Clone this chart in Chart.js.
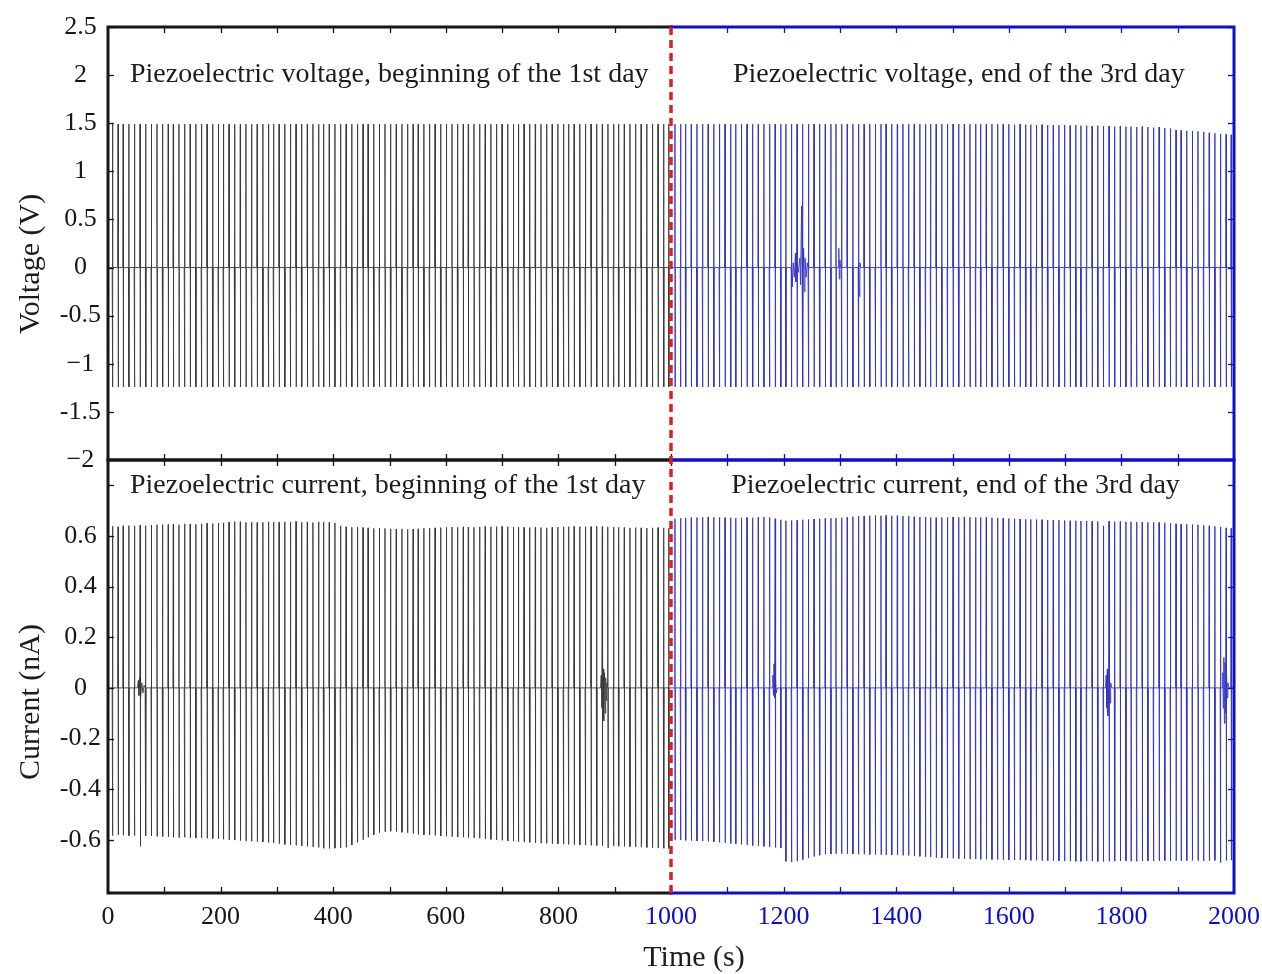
<!DOCTYPE html>
<html><head><meta charset="utf-8">
<script src="https://cdn.jsdelivr.net/npm/chart.js@4.4.1/dist/chart.umd.min.js"></script>
<style>
html,body{margin:0;padding:0;background:#fff;width:1262px;height:974px;overflow:hidden}
#wrap{position:relative;width:1262px;height:974px}
canvas{position:absolute;left:0;top:0}
</style></head><body><div id="wrap"><canvas id="cv" width="1262" height="974"></canvas><canvas id="ci" width="1262" height="974"></canvas></div>
<script>
// ---------------- DATA ----------------
const day1Times = [8,18,27,37,47,57,67,77,87,97,
107,116,126,136,146,156,166,176,186,196,
205,215,225,235,245,255,265,275,285,294,
304,314,324,334,344,354,364,374,383,393,
403,413,423,433,443,453,462,472,482,492,
502,512,522,532,542,551,561,571,581,591,
601,611,621,631,640,650,660,670,680,690,
700,710,720,729,739,749,759,769,779,789,
799,809,818,828,838,848,858,868,878,888,
898,907,917,927,937,947,957,967,977,987,996];
const day3Times = [1007,1017,1026,1036,1046,1056,1066,1076,1086,1096,
1106,1115,1125,1135,1145,1155,1165,1175,1185,1195,
1204,1214,1224,1234,1244,1254,1264,1274,1284,1293,
1303,1313,1323,1333,1343,1353,1363,1373,1382,1392,
1402,1412,1422,1432,1442,1452,1461,1471,1481,1491,
1501,1511,1521,1531,1541,1550,1560,1570,1580,1590,
1600,1610,1620,1630,1639,1649,1659,1669,1679,1689,
1699,1709,1719,1728,1738,1748,1758,1768,1778,1788,
1798,1808,1817,1827,1837,1847,1857,1867,1877,1887,
1897,1906,1916,1926,1936,1946,1956,1966,1976,1986,1995];

const voltPeak1 = [1.49,1.49,1.49,1.49,1.49,1.49,1.49,1.49,1.49,1.49,
1.49,1.49,1.49,1.49,1.49,1.49,1.49,1.49,1.49,1.49,
1.49,1.49,1.49,1.49,1.49,1.49,1.49,1.49,1.49,1.49,
1.49,1.49,1.49,1.49,1.49,1.49,1.49,1.49,1.49,1.49,
1.49,1.49,1.49,1.49,1.49,1.49,1.49,1.49,1.49,1.49,
1.49,1.49,1.49,1.49,1.49,1.49,1.49,1.49,1.49,1.49,
1.49,1.49,1.49,1.49,1.49,1.49,1.49,1.49,1.49,1.49,
1.49,1.49,1.49,1.49,1.49,1.49,1.49,1.49,1.49,1.49,
1.49,1.49,1.49,1.49,1.49,1.49,1.49,1.49,1.49,1.49,
1.49,1.49,1.49,1.49,1.49,1.49,1.49,1.49,1.49,1.49,1.49];
const voltTrough1 = [-1.24,-1.24,-1.24,-1.24,-1.24,-1.24,-1.24,-1.24,-1.24,-1.24,
-1.24,-1.24,-1.24,-1.24,-1.24,-1.24,-1.24,-1.24,-1.24,-1.24,
-1.24,-1.24,-1.24,-1.24,-1.24,-1.24,-1.24,-1.24,-1.24,-1.24,
-1.24,-1.24,-1.24,-1.24,-1.24,-1.24,-1.24,-1.24,-1.24,-1.24,
-1.24,-1.24,-1.24,-1.24,-1.24,-1.24,-1.24,-1.24,-1.24,-1.24,
-1.24,-1.24,-1.24,-1.24,-1.24,-1.24,-1.24,-1.24,-1.24,-1.24,
-1.24,-1.24,-1.24,-1.24,-1.24,-1.24,-1.24,-1.24,-1.24,-1.24,
-1.24,-1.24,-1.24,-1.24,-1.24,-1.24,-1.24,-1.24,-1.24,-1.24,
-1.24,-1.24,-1.24,-1.24,-1.24,-1.24,-1.24,-1.24,-1.24,-1.24,
-1.24,-1.24,-1.24,-1.24,-1.24,-1.24,-1.24,-1.24,-1.24,-1.24,-1.24];
const voltPeak3 = [1.49,1.49,1.49,1.49,1.49,1.49,1.49,1.49,1.49,1.49,
1.49,1.49,1.49,1.49,1.49,1.49,1.49,1.49,1.49,1.49,
1.49,1.49,1.49,1.49,1.49,1.49,1.49,1.49,1.49,1.49,
1.49,1.49,1.49,1.49,1.49,1.49,1.49,1.49,1.49,1.49,
1.49,1.49,1.49,1.49,1.49,1.49,1.49,1.49,1.49,1.49,
1.49,1.49,1.49,1.49,1.49,1.49,1.49,1.49,1.49,1.49,
1.49,1.485,1.49,1.485,1.485,1.48,1.485,1.48,1.48,1.48,
1.48,1.475,1.48,1.475,1.475,1.47,1.475,1.47,1.47,1.465,
1.47,1.465,1.465,1.46,1.465,1.46,1.455,1.46,1.45,1.445,
1.43,1.425,1.42,1.42,1.415,1.41,1.40,1.395,1.39,1.385,1.38];
const voltTrough3 = [-1.24,-1.24,-1.24,-1.24,-1.24,-1.24,-1.24,-1.24,-1.24,-1.24,
-1.24,-1.24,-1.24,-1.24,-1.24,-1.24,-1.24,-1.24,-1.24,-1.24,
-1.24,-1.24,-1.24,-1.24,-1.24,-1.24,-1.24,-1.24,-1.24,-1.24,
-1.24,-1.24,-1.24,-1.24,-1.24,-1.24,-1.24,-1.24,-1.24,-1.24,
-1.24,-1.24,-1.24,-1.24,-1.24,-1.24,-1.24,-1.24,-1.24,-1.24,
-1.24,-1.24,-1.24,-1.24,-1.24,-1.24,-1.24,-1.24,-1.24,-1.24,
-1.24,-1.24,-1.24,-1.24,-1.24,-1.24,-1.24,-1.24,-1.24,-1.24,
-1.24,-1.24,-1.24,-1.24,-1.24,-1.24,-1.24,-1.24,-1.24,-1.24,
-1.24,-1.24,-1.24,-1.24,-1.24,-1.24,-1.24,-1.24,-1.24,-1.24,
-1.24,-1.24,-1.24,-1.24,-1.24,-1.24,-1.24,-1.24,-1.24,-1.24,-1.24];
const voltBurst3 = [[1213,0],[1214,0.12],[1215.5,-0.2],[1217,0.05],[1219,-0.1],[1221,0.15],[1222,-0.15],[1224,0.08],[1226,-0.05],
[1229,0.1],[1230,-0.18],[1232,0.64],[1233,-0.22],[1235.5,0.2],[1236.5,-0.25],[1238,0.1],[1240,-0.1],[1242,0.05],[1245,0],
[1297,0],[1298,0.2],[1299,-0.12],[1300,0.08],[1301,0],[1332,0],[1333.5,0.08],[1334.5,-0.3],[1335.5,0.05],[1337,0]];

const curPeak1 = [0.638,0.636,0.64,0.641,0.64,0.642,0.64,0.643,0.644,0.645,
0.645,0.646,0.644,0.648,0.647,0.646,0.648,0.65,0.649,0.65,
0.652,0.655,0.657,0.656,0.654,0.655,0.653,0.654,0.656,0.655,
0.654,0.656,0.655,0.657,0.654,0.655,0.653,0.656,0.655,0.654,
0.652,0.64,0.636,0.634,0.635,0.633,0.632,0.63,0.631,0.63,
0.628,0.627,0.628,0.626,0.627,0.628,0.63,0.631,0.632,0.633,
0.634,0.635,0.634,0.636,0.635,0.634,0.636,0.637,0.636,0.637,
0.638,0.637,0.636,0.635,0.634,0.633,0.634,0.633,0.632,0.634,
0.635,0.636,0.637,0.638,0.637,0.636,0.637,0.638,0.637,0.636,
0.635,0.634,0.633,0.632,0.633,0.632,0.631,0.632,0.633,0.632,0.631];
const curTrough1 = [-0.583,-0.58,-0.582,-0.584,-0.583,-0.626,-0.585,-0.585,-0.586,-0.587,
-0.588,-0.59,-0.591,-0.59,-0.592,-0.593,-0.592,-0.594,-0.595,-0.596,
-0.598,-0.6,-0.601,-0.603,-0.604,-0.606,-0.607,-0.608,-0.61,-0.612,
-0.615,-0.618,-0.62,-0.622,-0.624,-0.626,-0.628,-0.63,-0.633,-0.634,
-0.633,-0.632,-0.63,-0.62,-0.61,-0.6,-0.59,-0.58,-0.572,-0.568,
-0.566,-0.567,-0.57,-0.572,-0.575,-0.578,-0.58,-0.581,-0.583,-0.585,
-0.586,-0.587,-0.589,-0.59,-0.591,-0.592,-0.594,-0.596,-0.598,-0.6,
-0.602,-0.604,-0.605,-0.607,-0.608,-0.61,-0.612,-0.613,-0.614,-0.615,
-0.616,-0.617,-0.618,-0.619,-0.62,-0.621,-0.622,-0.622,-0.623,-0.632,
-0.624,-0.625,-0.626,-0.627,-0.628,-0.629,-0.63,-0.631,-0.632,-0.633,-0.634];
const curPeak3 = [0.668,0.67,0.671,0.672,0.673,0.674,0.675,0.674,0.673,0.672,
0.672,0.671,0.672,0.673,0.672,0.674,0.675,0.673,0.668,0.664,
0.66,0.661,0.662,0.664,0.665,0.667,0.668,0.669,0.67,0.671,
0.672,0.674,0.676,0.678,0.679,0.68,0.681,0.68,0.681,0.68,
0.68,0.679,0.678,0.676,0.675,0.674,0.673,0.672,0.673,0.674,
0.675,0.674,0.675,0.674,0.673,0.674,0.673,0.672,0.671,0.67,
0.669,0.668,0.667,0.666,0.665,0.665,0.664,0.663,0.663,0.662,
0.661,0.66,0.66,0.659,0.659,0.658,0.657,0.64,0.658,0.657,
0.657,0.656,0.656,0.655,0.655,0.654,0.654,0.653,0.652,0.651,
0.648,0.647,0.646,0.645,0.644,0.642,0.64,0.638,0.635,0.632,0.63];
const curTrough3 = [-0.6,-0.601,-0.602,-0.603,-0.604,-0.605,-0.606,-0.608,-0.61,-0.612,
-0.614,-0.616,-0.618,-0.62,-0.622,-0.624,-0.626,-0.628,-0.63,-0.632,
-0.685,-0.688,-0.684,-0.678,-0.672,-0.666,-0.661,-0.657,-0.656,-0.655,
-0.655,-0.656,-0.656,-0.657,-0.657,-0.658,-0.658,-0.659,-0.66,-0.66,
-0.66,-0.661,-0.662,-0.664,-0.665,-0.667,-0.668,-0.67,-0.671,-0.672,
-0.673,-0.674,-0.675,-0.676,-0.676,-0.677,-0.677,-0.678,-0.678,-0.679,
-0.679,-0.68,-0.68,-0.68,-0.681,-0.681,-0.682,-0.682,-0.683,-0.683,
-0.684,-0.684,-0.685,-0.685,-0.684,-0.684,-0.685,-0.686,-0.685,-0.684,
-0.684,-0.683,-0.684,-0.685,-0.684,-0.683,-0.684,-0.683,-0.682,-0.683,
-0.682,-0.683,-0.682,-0.681,-0.682,-0.683,-0.682,-0.681,-0.69,-0.682,-0.68];
const curBurst1 = [[52,0],[54,0.03],[55,-0.03],[56,0.04],[58.5,-0.04],[60,0.02],[62,-0.02],[64,0.01],[66,0],
[875,0],[876,0.05],[877,-0.08],[879.5,0.075],[880.5,-0.13],[882,0.06],[883,-0.1],[884,0.04],[885,-0.05],[886,0.02],[887,0]];
const curBurst3 = [[1180,0],[1181,0.05],[1182,-0.03],[1183,0.095],[1184,-0.04],[1186.5,0.04],[1187,-0.02],[1189,0],
[1772,0],[1773,0.05],[1774,-0.08],[1775,0.075],[1776,-0.11],[1779,0.05],[1780,-0.06],[1781,0.02],[1783,0],
[1979,0],[1980,0.06],[1981,-0.08],[1982,0.12],[1983,-0.14],[1984,0.1],[1985,-0.1],[1987,0.06],[1988,-0.04],[1989,0.02],[1991,0]];

const timeTickVals = [0,200,400,600,800,1000,1200,1400,1600,1800,2000];
const timeTickLabels = ['0','200','400','600','800','1000','1200','1400','1600','1800','2000'];
const timeMinorTicks = [100,200,300,400,500,600,700,800,900,1000,1100,1200,1300,1400,1500,1600,1700,1800,1900];
const voltTickVals = [-2,-1.5,-1,-0.5,0,0.5,1,1.5,2,2.5];
const voltTickLabels = ['\u22122','-1.5','\u22121','-0.5','0','0.5','1','1.5','2','2.5'];
const curTickVals = [-0.6,-0.4,-0.2,0,0.2,0.4,0.6];
const curTickLabels = ['-0.6','-0.4','-0.2','0','0.2','0.4','0.6'];
const curTickMarks = [-0.6,-0.4,-0.2,0,0.2,0.4,0.6,0.8];
const panelTitles = {
  volt1: 'Piezoelectric voltage, beginning of the 1st day',
  volt3: 'Piezoelectric voltage, end of the 3rd day',
  cur1: 'Piezoelectric current, beginning of the 1st day',
  cur3: 'Piezoelectric current, end of the 3rd day'
};
const splitTime = 1000;

// ---------------- STYLE ----------------
const BLACK = '#161616', BLUE = '#0c0cd2', TRACE_BLACK = '#3a3a3a', TRACE_BLUE = '#3232c4', RED = '#e01e1e';
const SERIF = '"Liberation Serif","Times New Roman",serif';

function buildSeries(times, peaks, troughs, bursts, tStart, tEnd) {
  const pts = [{x: tStart, y: 0}];
  for (let i = 0; i < times.length; i++) {
    const t = times[i];
    pts.push({x: t - 0.6, y: 0}, {x: t, y: peaks[i]}, {x: t + 0.15, y: troughs[i]}, {x: t + 0.7, y: 0});
  }
  bursts.forEach(b => pts.push({x: b[0], y: b[1]}));
  pts.push({x: tEnd, y: 0});
  pts.sort((a, b) => a.x - b.x);
  return pts;
}

function framePlugin(tickMarks, texts) {
  return {
    id: 'frame',
    afterDatasetsDraw(chart) {
      const {ctx, chartArea: {left, right, top, bottom}, scales: {x, y}} = chart;
      const xm = x.getPixelForValue(splitTime);
      ctx.save();
      ctx.lineWidth = 1.3;
      timeMinorTicks.forEach(v => {
        const px = Math.round(x.getPixelForValue(v)) + 0.5;
        ctx.strokeStyle = v <= splitTime ? BLACK : BLUE;
        ctx.beginPath(); ctx.moveTo(px, top); ctx.lineTo(px, top + 6);
        ctx.moveTo(px, bottom); ctx.lineTo(px, bottom - 6); ctx.stroke();
      });
      tickMarks.forEach(v => {
        const py = Math.round(y.getPixelForValue(v)) + 0.5;
        ctx.strokeStyle = BLACK;
        ctx.beginPath(); ctx.moveTo(left, py); ctx.lineTo(left + 6, py); ctx.stroke();
        ctx.strokeStyle = BLUE;
        ctx.beginPath(); ctx.moveTo(right, py); ctx.lineTo(right - 6, py); ctx.stroke();
      });
      ctx.lineWidth = 3;
      ctx.lineCap = 'square';
      ctx.strokeStyle = BLACK;
      ctx.beginPath();
      ctx.moveTo(xm, top); ctx.lineTo(left, top); ctx.lineTo(left, bottom); ctx.lineTo(xm, bottom);
      ctx.stroke();
      ctx.strokeStyle = BLUE;
      ctx.beginPath();
      ctx.moveTo(xm, top); ctx.lineTo(right, top); ctx.lineTo(right, bottom); ctx.lineTo(xm, bottom);
      ctx.stroke();
      ctx.fillStyle = '#1c1c1c';
      ctx.font = '28px ' + SERIF;
      ctx.textBaseline = 'alphabetic';
      ctx.textAlign = 'left';
      texts.forEach(t => ctx.fillText(t.text, x.getPixelForValue(t.x), y.getPixelForValue(t.y)));
      ctx.restore();
    }
  };
}

const axisTitlePlugin = {
  id: 'axisTitles',
  afterDraw(chart) {
    const ctx = chart.ctx;
    ctx.save();
    ctx.fillStyle = '#1c1c1c';
    ctx.font = '30px ' + SERIF;
    ctx.textAlign = 'center';
    ctx.textBaseline = 'middle';
    chart.options.plugins.axisTitles.items.forEach(it => {
      ctx.save();
      ctx.translate(it.x, it.y);
      ctx.rotate(it.rot);
      ctx.fillText(it.text, 0, 0);
      ctx.restore();
    });
    ctx.restore();
  }
};

function yScale(min, max, vals, labels) {
  return {
    type: 'linear', min: min, max: max, position: 'left',
    afterFit: s => { s.width = 108; s.paddingTop = 0; s.paddingBottom = 0; },
    afterBuildTicks: s => { s.ticks = vals.map(v => ({value: v})); },
    grid: {display: false, drawTicks: false},
    border: {display: false},
    ticks: {
      callback: (v, i) => labels[i],
      font: {family: SERIF, size: 26},
      color: BLACK,
      crossAlign: 'center',
      padding: 7
    }
  };
}

const commonOpts = {
  responsive: false,
  devicePixelRatio: 1,
  animation: false,
  events: [],
  elements: {point: {radius: 0}, line: {tension: 0}}
};

// ---------------- VOLTAGE PANEL ----------------
const voltChart = new Chart(document.getElementById('cv'), {
  type: 'line',
  data: {datasets: [
    {data: buildSeries(day1Times, voltPeak1, voltTrough1, [], 0, splitTime), borderColor: TRACE_BLACK, borderWidth: 0.9},
    {data: buildSeries(day3Times, voltPeak3, voltTrough3, voltBurst3, splitTime, 2000), borderColor: TRACE_BLUE, borderWidth: 0.9}
  ]},
  options: Object.assign({}, commonOpts, {
    layout: {padding: {top: 27, bottom: 514, left: 0, right: 28}},
    scales: {
      x: {type: 'linear', min: 0, max: 2000, display: false},
      y: yScale(-2, 2.5, voltTickVals, voltTickLabels)
    },
    plugins: {
      legend: {display: false}, tooltip: {enabled: false},
      axisTitles: {items: [{text: 'Voltage (V)', x: 31, y: 264, rot: -Math.PI / 2}]}
    }
  }),
  plugins: [framePlugin(voltTickVals, [
    {text: panelTitles.volt1, x: 39, y: 1.93},
    {text: panelTitles.volt3, x: 1110, y: 1.93}
  ]), axisTitlePlugin]
});

// ---------------- CURRENT PANEL ----------------
const redLinePlugin = {
  id: 'redLine',
  afterDraw(chart) {
    const {ctx, chartArea: {bottom}, scales: {x}} = chart;
    const px = x.getPixelForValue(splitTime);
    ctx.save();
    ctx.strokeStyle = RED;
    ctx.lineWidth = 3.5;
    ctx.setLineDash([8, 5]);
    ctx.beginPath();
    ctx.moveTo(px, voltChart.chartArea.top);
    ctx.lineTo(px, bottom);
    ctx.stroke();
    ctx.restore();
  }
};

new Chart(document.getElementById('ci'), {
  type: 'line',
  data: {datasets: [
    {data: buildSeries(day1Times, curPeak1, curTrough1, curBurst1, 0, splitTime), borderColor: TRACE_BLACK, borderWidth: 0.9},
    {data: buildSeries(day3Times, curPeak3, curTrough3, curBurst3, splitTime, 2000), borderColor: TRACE_BLUE, borderWidth: 0.9}
  ]},
  options: Object.assign({}, commonOpts, {
    layout: {padding: {top: 460, bottom: 0, left: 0, right: 28}},
    scales: {
      x: {
        type: 'linear', min: 0, max: 2000, position: 'bottom',
        afterFit: s => { s.height = 81; s.paddingLeft = 0; s.paddingRight = 0; },
        afterBuildTicks: s => { s.ticks = timeTickVals.map(v => ({value: v})); },
        grid: {display: false, drawTicks: false},
        border: {display: false},
        ticks: {
          callback: (v, i) => timeTickLabels[i],
          font: {family: SERIF, size: 26},
          color: c => (c.tick && c.tick.value >= splitTime) ? BLUE : BLACK,
          padding: 9,
          maxRotation: 0, autoSkip: false
        }
      },
      y: yScale(-0.81, 0.9, curTickVals, curTickLabels)
    },
    plugins: {
      legend: {display: false}, tooltip: {enabled: false},
      axisTitles: {items: [
        {text: 'Current (nA)', x: 31, y: 702, rot: -Math.PI / 2},
        {text: 'Time (s)', x: 694, y: 958, rot: 0}
      ]}
    }
  }),
  plugins: [framePlugin(curTickMarks, [
    {text: panelTitles.cur1, x: 39, y: 0.768},
    {text: panelTitles.cur3, x: 1107, y: 0.768}
  ]), axisTitlePlugin, redLinePlugin]
});
</script></body></html>
